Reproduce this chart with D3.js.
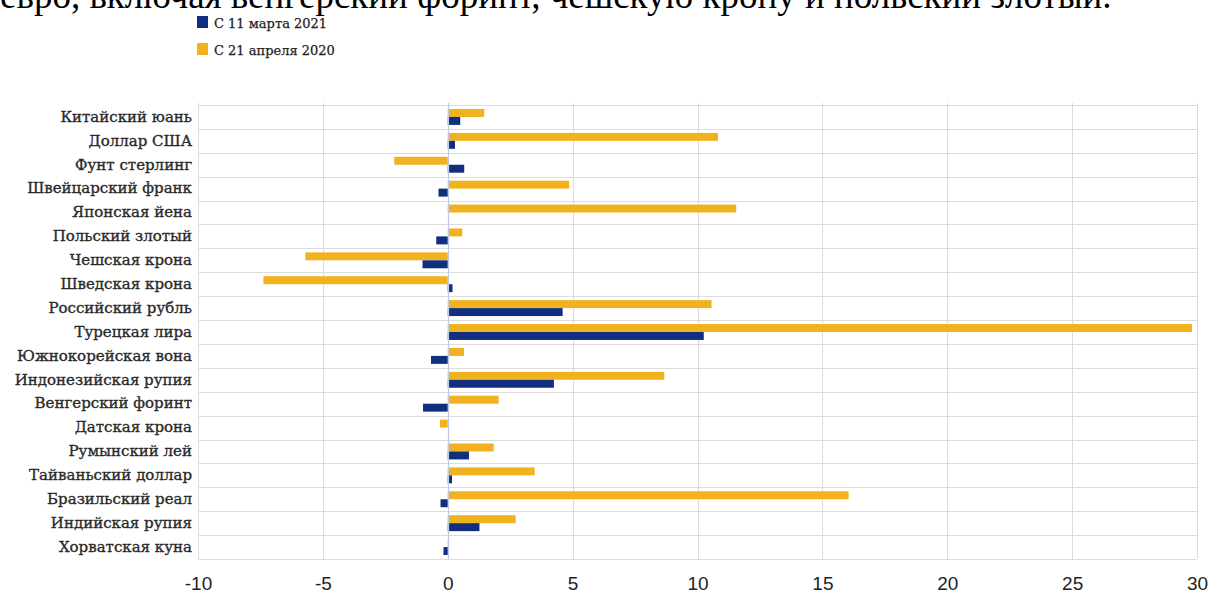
<!DOCTYPE html>
<html>
<head>
<meta charset="utf-8">
<script src="https://cdn.jsdelivr.net/npm/d3@7"></script>
<style>
  html, body { margin: 0; padding: 0; background: #fff; overflow: hidden; }
  svg { display: block; }
</style>
</head>
<body>
<svg id="chart" width="1213" height="592"></svg>
<script>
const categories = [
  "Китайский юань", "Доллар США", "Фунт стерлинг", "Швейцарский франк",
  "Японская йена", "Польский злотый", "Чешская крона", "Шведская крона",
  "Российский рубль", "Турецкая лира", "Южнокорейская вона", "Индонезийская рупия",
  "Венгерский форинт", "Датская крона", "Румынский лей", "Тайваньский доллар",
  "Бразильский реал", "Индийская рупия", "Хорватская куна"
];
const since2021 = [0.5, 0.29, 0.66, -0.37, 0, -0.46, -1.01, 0.19, 4.6, 10.25, -0.67, 4.25, -0.99, 0, 0.85, 0.17, -0.29, 1.27, -0.17];
const since2020 = [1.46, 10.82, -2.14, 4.86, 11.55, 0.58, -5.70, -7.38, 10.56, 29.8, 0.65, 8.67, 2.04, -0.31, 1.84, 3.48, 16.05, 2.72, 0.05];
const seriesNames = ["С 11 марта 2021", "С 21 апреля 2020"];
const xTicks = [-10, -5, 0, 5, 10, 15, 20, 25, 30];
const headline = "евро, включая венгерский форинт, чешскую крону и польский злотый.";

const colors = { s2021: "#10307f", s2020: "#f0b21e" };

const svg = d3.select("#chart");

// headline text, partly cut off at the top as in the source image
svg.append("text")
  .attr("x", 0).attr("y", 8)
  .attr("font-family", "'Liberation Serif', 'Times New Roman', serif")
  .attr("font-size", 37)
  .attr("fill", "#000")
  .text(headline);

const x = d3.scaleLinear().domain([-10, 30]).range([198, 1197]);
const y = d3.scaleBand().domain(categories).range([105, 559]).paddingInner(0).paddingOuter(0);
const sub = d3.scaleBand().domain(["s2020", "s2021"]).range([0, y.bandwidth()]).paddingInner(0).paddingOuter(0.5);

const grid = svg.append("g");
const bounds = categories.map(c => y(c)).concat([y.range()[1]]);
grid.selectAll("line.h").data(bounds).enter().append("line")
  .attr("x1", x(-10)).attr("x2", x(30))
  .attr("y1", d => Math.round(d) + 0.5).attr("y2", d => Math.round(d) + 0.5)
  .attr("stroke", "#dcdcdc").attr("stroke-width", 1);
grid.selectAll("line.v").data(xTicks.filter(t => t !== 0)).enter().append("line")
  .attr("x1", d => Math.round(x(d)) + 0.5).attr("x2", d => Math.round(x(d)) + 0.5)
  .attr("y1", 103).attr("y2", 559)
  .attr("stroke", "#dcdcdc").attr("stroke-width", 1);

const rows = categories.map((c, i) => ({ c, s2021: since2021[i], s2020: since2020[i] }));
const barG = svg.append("g");
["s2020", "s2021"].forEach(key => {
  barG.selectAll("rect." + key).data(rows).enter().append("rect")
    .attr("class", key)
    .attr("x", d => x(Math.min(0, d[key])))
    .attr("width", d => Math.abs(x(d[key]) - x(0)))
    .attr("y", d => y(d.c) + sub(key))
    .attr("height", sub.bandwidth())
    .attr("fill", colors[key]);
});

svg.append("line")
  .attr("x1", Math.round(x(0)) + 0.5).attr("x2", Math.round(x(0)) + 0.5)
  .attr("y1", 103).attr("y2", 559)
  .attr("stroke", "#bfcbe0").attr("stroke-width", 1.2);

const xAxis = d3.axisBottom(x).tickValues(xTicks).tickSize(0).tickPadding(0)
  .tickFormat(d => d < 0 ? "-" + Math.abs(d) : String(d));
const xg = svg.append("g").attr("transform", "translate(0,576)").call(xAxis);
xg.select(".domain").remove();
xg.selectAll("text")
  .attr("font-family", "'Liberation Sans', Arial, sans-serif")
  .attr("font-size", 19)
  .attr("fill", "#222")
  .attr("dy", "0.71em");

const yAxis = d3.axisLeft(y).tickSize(0).tickPadding(0);
const yg = svg.append("g").attr("transform", "translate(192,0)").call(yAxis);
yg.select(".domain").remove();
yg.selectAll("text")
  .attr("font-family", "'DejaVu Serif', serif")
  .attr("font-size", 15)
  .attr("fill", "#2a2a2a")
  .attr("stroke", "#2a2a2a")
  .attr("stroke-width", 0.35);

const legend = svg.append("g");
const legendItems = [
  { name: seriesNames[0], color: colors.s2021 },
  { name: seriesNames[1], color: colors.s2020 }
];
legendItems.forEach((it, i) => {
  const cy = 23 + i * 27;
  legend.append("rect").attr("x", 197).attr("y", cy - 7).attr("width", 11).attr("height", 12).attr("fill", it.color);
  legend.append("text").attr("x", 214).attr("y", cy)
    .attr("dominant-baseline", "central")
    .attr("font-family", "'DejaVu Serif', serif")
    .attr("font-size", 13)
    .attr("fill", "#222")
    .attr("stroke", "#222")
    .attr("stroke-width", 0.25)
    .text(it.name);
});
</script>
</body>
</html>
